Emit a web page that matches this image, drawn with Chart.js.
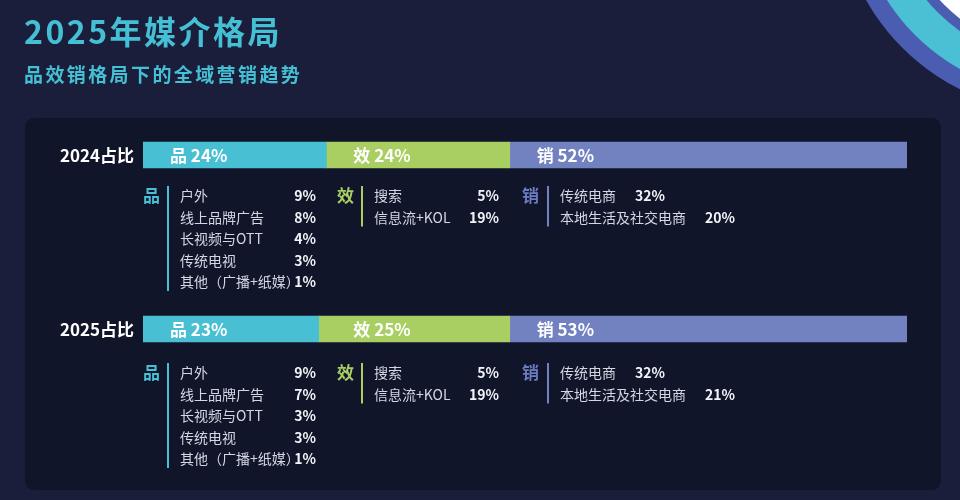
<!DOCTYPE html>
<html lang="zh-CN">
<head>
<meta charset="UTF-8">
<title>2025年媒介格局</title>
<style>
  html, body { margin: 0; padding: 0; background: #1a1e3a; }
  .wrap { position: relative; width: 960px; height: 500px; }
</style>
</head>
<body>
<div class="wrap">
  <canvas id="mediaChart"></canvas>
</div>
<script src="https://cdn.jsdelivr.net/npm/chart.js"></script>
<script>
  // 数据
  var years = ["2024占比", "2025占比"];
  var groupNames = ["品", "效", "销"];
  var pinShare = [24, 23];
  var xiaoShare = [24, 25];
  var xiaoShouShare = [52, 53];

  var pinItems = ["户外", "线上品牌广告", "长视频与OTT", "传统电视", "其他（广播+纸媒）"];
  var pin2024 = [9, 8, 4, 3, 1];
  var pin2025 = [9, 7, 3, 3, 1];
  var effItems = ["搜索", "信息流+KOL"];
  var eff2024 = [5, 19];
  var eff2025 = [5, 19];
  var saleItems = ["传统电商", "本地生活及社交电商"];
  var sale2024 = [32, 20];
  var sale2025 = [32, 21];

  var colors = ["#48bfd3", "#a9cf63", "#7282c0"];
  var labelColors = ["#48bfd3", "#a9cf63", "#6c7cc0"];
  var FONT = '"Noto Sans CJK SC", "Noto Sans", sans-serif';

  function roundRect(ctx, x, y, w, h, r) {
    ctx.beginPath();
    ctx.moveTo(x + r, y);
    ctx.arcTo(x + w, y, x + w, y + h, r);
    ctx.arcTo(x + w, y + h, x, y + h, r);
    ctx.arcTo(x, y + h, x, y, r);
    ctx.arcTo(x, y, x + w, y, r);
    ctx.closePath();
  }

  // 背景、标题、面板
  var backdrop = {
    id: "backdrop",
    beforeDraw: function (chart) {
      var ctx = chart.ctx;
      ctx.save();
      ctx.fillStyle = "#1a1e3a";
      ctx.fillRect(0, 0, chart.width, chart.height);

      // 右上角的弧形装饰
      var cx = 1060, cy = -110;
      var rings = [[223, "#4a5db0"], [205, "#4bc0d4"], [173, "#4a5db0"], [163, "#ffffff"]];
      rings.forEach(function (r) {
        ctx.beginPath();
        ctx.arc(cx, cy, r[0], 0, Math.PI * 2);
        ctx.fillStyle = r[1];
        ctx.fill();
      });

      // 面板
      roundRect(ctx, 25, 118, 916, 372, 9);
      ctx.fillStyle = "#10152a";
      ctx.fill();

      // 标题
      ctx.fillStyle = "#45bfd4";
      ctx.textBaseline = "alphabetic";
      ctx.textAlign = "left";
      ctx.font = "bold 32px " + FONT;
      ctx.letterSpacing = "2.5px";
      ctx.fillText("2025年媒介格局", 24, 44);
      ctx.font = "bold 19px " + FONT;
      ctx.letterSpacing = "2.4px";
      ctx.fillText("品效销格局下的全域营销趋势", 24, 82);
      ctx.letterSpacing = "0px";
      ctx.restore();
    }
  };

  // 条形内的标签、年份标签、明细列表
  var annotations = {
    id: "annotations",
    afterDatasetsDraw: function (chart) {
      var ctx = chart.ctx;
      var yScale = chart.scales.y;
      ctx.save();
      ctx.textBaseline = "middle";

      // 条形内标签（与首行的分段起点对齐）
      chart.data.datasets.forEach(function (ds, di) {
        var bars = chart.getDatasetMeta(di).data;
        var labelX = bars[0].base + 27;
        bars.forEach(function (bar, i) {
          ctx.font = "bold 17px " + FONT;
          ctx.fillStyle = "#ffffff";
          ctx.textAlign = "left";
          ctx.fillText(groupNames[di] + " " + ds.data[i] + "%", labelX, bar.y + 1);
        });
      });

      var pinVals = [pin2024, pin2025];
      var effVals = [eff2024, eff2025];
      var saleVals = [sale2024, sale2025];

      years.forEach(function (yr, i) {
        var yc = yScale.getPixelForValue(i);

        ctx.font = "bold 17px " + FONT;
        ctx.fillStyle = "#ffffff";
        ctx.textAlign = "right";
        ctx.fillText(yr, 134, yc + 1);

        var row0 = yc + 41 + (i === 1 ? 3 : 0);
        var step = 21.5;

        function column(letterX, lineX, itemX, valRight, items, vals, ci, trailing) {
          ctx.font = "bold 17px " + FONT;
          ctx.fillStyle = labelColors[ci];
          ctx.textAlign = "left";
          ctx.fillText(groupNames[ci], letterX, row0);

          ctx.strokeStyle = colors[ci];
          ctx.lineWidth = 2;
          ctx.beginPath();
          ctx.moveTo(lineX, row0 - 10);
          ctx.lineTo(lineX, row0 + (items.length - 1) * step + 9);
          ctx.stroke();

          items.forEach(function (name, k) {
            var ry = row0 + k * step;
            ctx.font = "14px " + FONT;
            ctx.fillStyle = "#d4d7e2";
            ctx.textAlign = "left";
            ctx.fillText(name, itemX, ry);
            var w = ctx.measureText(name).width;
            ctx.font = "bold 14px " + FONT;
            ctx.fillStyle = "#f2f3f7";
            if (trailing) {
              ctx.textAlign = "left";
              ctx.fillText(vals[k] + "%", itemX + w + 19, ry);
            } else {
              ctx.textAlign = "right";
              ctx.fillText(vals[k] + "%", valRight, ry);
            }
          });
        }

        column(143, 168, 180, 316, pinItems, pinVals[i], 0, false);
        column(337, 362, 374, 499, effItems, effVals[i], 1, false);
        column(522, 548, 560, 0, saleItems, saleVals[i], 2, true);
      });
      ctx.restore();
    }
  };

  var ctx = document.getElementById("mediaChart").getContext("2d");
  var mediaChart = new Chart(ctx, {
    type: "bar",
    data: {
      labels: years,
      datasets: [
        { label: "品", data: pinShare, backgroundColor: colors[0] },
        { label: "效", data: xiaoShare, backgroundColor: colors[1] },
        { label: "销", data: xiaoShouShare, backgroundColor: colors[2] }
      ]
    },
    options: {
      indexAxis: "y",
      responsive: true,
      maintainAspectRatio: false,
      animation: false,
      layout: { padding: { left: 143, right: 53, top: 68, bottom: 84 } },
      datasets: { bar: { barThickness: 26, borderWidth: 0 } },
      scales: {
        x: { stacked: true, min: 0, max: 100, display: false },
        y: { stacked: true, display: false }
      },
      plugins: {
        legend: { display: false },
        tooltip: { enabled: false }
      }
    },
    plugins: [backdrop, annotations]
  });
</script>
</body>
</html>
